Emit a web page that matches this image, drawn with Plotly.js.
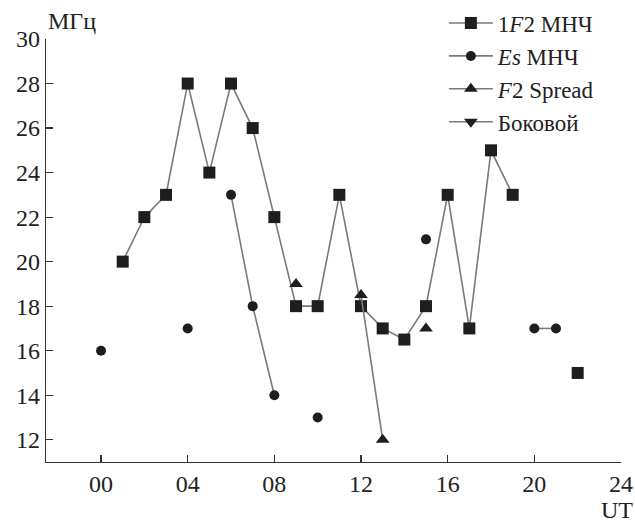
<!DOCTYPE html>
<html>
<head>
<meta charset="utf-8">
<script src="https://cdn.plot.ly/plotly-3.0.1.min.js"></script>
<style>
  html, body { margin: 0; padding: 0; background: #fff; }
  #chart { width: 635px; height: 523px; }
</style>
</head>
<body>
<div id="chart"></div>
<script>
// Hours UT, 00..22
const hours = [0, 1, 2, 3, 4, 5, 6, 7, 8, 9, 10, 11, 12, 13, 14, 15, 16, 17, 18, 19, 20, 21, 22];

// Critical frequencies, MHz (null = no observation)
const f2Muf = [null, 20, 22, 23, 28, 24, 28, 26, 22, 18, 18, 23, 18, 17, 16.5, 18, 23, 17, 25, 23, null, null, 15];
const esMuf = [16, null, null, null, 17, null, 23, 18, 14, null, 13, null, null, null, null, 21, null, null, null, null, 17, 17, null];
const f2Spread = [null, null, null, null, null, null, null, null, null, 19, null, null, 18.5, 12, null, 17, null, null, null, null, null, null, null];
const lateral = [null, null, null, null, null, null, null, null, null, null, null, null, null, null, null, null, null, null, null, null, null, null, null];

const seriesNames = ['1<i>F</i>2 МНЧ', '<i>Es</i> МНЧ', '<i>F</i>2 Spread', 'Боковой'];

const xTicks = [0, 4, 8, 12, 16, 20, 24];
const xTickText = ['00', '04', '08', '12', '16', '20', '24'];
const yTicks = [12, 14, 16, 18, 20, 22, 24, 26, 28, 30];

const lineColor = '#7a7a7a';
const markColor = '#1e1e1e';

function series(y, name, symbol, size) {
  return {
    x: hours, y: y, name: name, type: 'scatter', mode: 'lines+markers',
    connectgaps: false,
    line: { color: lineColor, width: 1.6 },
    marker: { symbol: symbol, size: size, color: markColor }
  };
}

const data = [
  series(f2Muf, seriesNames[0], 'square', 12),
  series(esMuf, seriesNames[1], 'circle', 10),
  series(f2Spread, seriesNames[2], 'triangle-up', 12),
  series(lateral, seriesNames[3], 'triangle-down', 12)
];

const family = '"Liberation Serif", "DejaVu Serif", serif';
const font = { family: family, size: 24, color: '#222' };

const layout = {
  width: 635, height: 523,
  margin: { l: 46, r: 14, t: 39, b: 61, autoexpand: false },
  paper_bgcolor: '#fff', plot_bgcolor: '#fff',
  font: font,
  showlegend: true,
  legend: {
    xref: 'container', yref: 'container',
    x: 0.699, xanchor: 'left', y: 0.997, yanchor: 'top',
    bgcolor: 'rgba(0,0,0,0)', tracegroupgap: 0, itemwidth: 44,
    font: { family: family, size: 23, color: '#222' }
  },
  xaxis: {
    range: [-2.54, 24], tickvals: xTicks, ticktext: xTickText,
    showgrid: false, zeroline: false, showline: true, linecolor: '#333', linewidth: 1.2,
    ticks: 'inside', ticklen: 7, tickcolor: '#333', tickwidth: 1.2,
    tickfont: font
  },
  yaxis: {
    range: [11, 30], tickvals: yTicks,
    showgrid: false, zeroline: false, showline: true, linecolor: '#333', linewidth: 1.2,
    ticks: 'inside', ticklen: 7, tickcolor: '#333', tickwidth: 1.2,
    tickfont: font
  },
  annotations: [
    { text: 'МГц', xref: 'paper', yref: 'paper', x: 0.0, y: 1.0, xanchor: 'left', yanchor: 'bottom',
      xshift: 0, yshift: 3, showarrow: false, font: font },
    { text: 'UT', xref: 'paper', yref: 'paper', x: 1.0, y: 0, xanchor: 'right', yanchor: 'bottom',
      height: 22, valign: 'middle', borderpad: 0,
      xshift: 13, yshift: -60, showarrow: false, font: font }
  ]
};

Plotly.newPlot('chart', data, layout, { displayModeBar: false, staticPlot: true });
</script>
</body>
</html>
